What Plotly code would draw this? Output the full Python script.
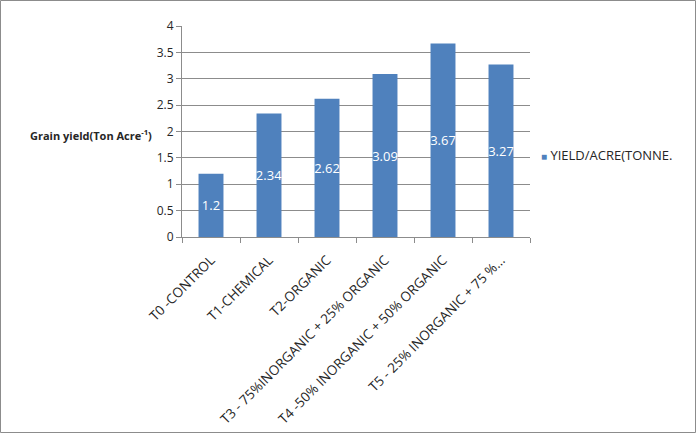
import plotly.graph_objects as go

categories = ["T0 -CONTROL", "T1-CHEMICAL", "T2-ORGANIC",
              "T3 - 75%INORGANIC + 25% ORGANIC",
              "T4 -50% INORGANIC + 50% ORGANIC",
              "T5 - 25% INORGANIC + 75 %..."]
yields = [1.2, 2.34, 2.62, 3.09, 3.67, 3.27]
value_labels = ["1.2", "2.34", "2.62", "3.09", "3.67", "3.27"]
series_name = "YIELD/ACRE(TONNE."
y_ticks = [0, 0.5, 1, 1.5, 2, 2.5, 3, 3.5, 4]
y_tick_text = ["0", "0.5", "1", "1.5", "2", "2.5", "3", "3.5", "4"]

BAR = "#4F81BD"
GRID = "#8C8C8C"
FONT = "Open Sans, Liberation Sans, sans-serif"

fig = go.Figure()
fig.add_trace(go.Bar(
    x=categories, y=yields, name=series_name,
    marker=dict(color=BAR, line=dict(width=0)),
    width=0.43,
    text=value_labels, textposition="inside", insidetextanchor="middle",
    textangle=0, constraintext="none",
    textfont=dict(color="white", size=13, family=FONT),
    showlegend=False,
))

L, R, T, B = 182, 166, 26, 196
W, H = 696, 433
pw, ph = W - L - R, H - T - B

fig.update_layout(
    width=W, height=H,
    margin=dict(l=L, r=R, t=T, b=B, autoexpand=False),
    paper_bgcolor="white", plot_bgcolor="white",
    font=dict(family=FONT, color="#262626", size=12),
    uniformtext=dict(mode="show", minsize=13),
    bargap=0.57,
    xaxis=dict(
        type="category", tickangle=-45, tickson="boundaries",
        ticks="outside", ticklen=5, tickcolor=GRID,
        showline=True, linecolor=GRID, linewidth=1,
        showgrid=False, tickfont=dict(size=13.5),
        ticklabelstandoff=9,
    ),
    yaxis=dict(
        range=[0, 4], tickvals=y_ticks, ticktext=y_tick_text,
        ticks="outside", ticklen=5, tickcolor=GRID,
        showline=True, linecolor=GRID, linewidth=1,
        showgrid=True, gridcolor=GRID, gridwidth=1,
        zeroline=False, tickfont=dict(size=12),
    ),
    shapes=[dict(
        type="rect", xref="paper", yref="paper",
        x0=(0.5 - L) / pw, x1=(W - 0.5 - L) / pw,
        y0=(T + ph - (H - 0.5)) / ph, y1=(T + ph - 0.5) / ph,
        line=dict(color="#8C8C8C", width=1), fillcolor="rgba(0,0,0,0)",
        layer="below",
    )],
    annotations=[
        dict(text="<b>Grain yield(Ton Acre<sup>-1</sup>)</b>",
             xref="paper", yref="paper",
             x=(91 - L) / pw, y=(T + ph - 135) / ph,
             xanchor="center", yanchor="middle", showarrow=False,
             font=dict(size=11, color="#262626")),
        dict(text=f"<span style='color:{BAR};font-size:10px'>■</span> {series_name}",
             xref="paper", yref="paper",
             x=(539 - L) / pw, y=(T + ph - 155) / ph,
             xanchor="left", yanchor="middle", showarrow=False,
             font=dict(size=13, color="#262626")),
    ],
)

fig.write_html("out.html")
